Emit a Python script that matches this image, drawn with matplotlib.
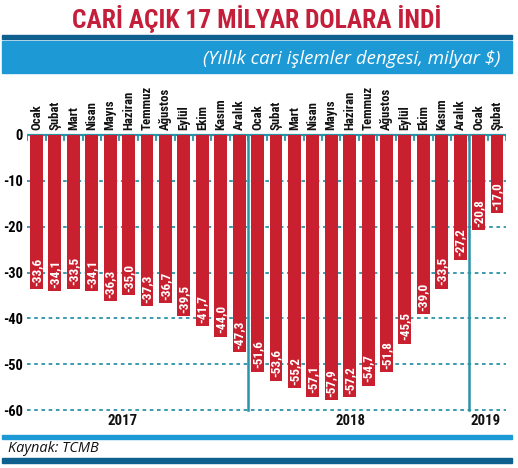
import matplotlib
matplotlib.use('Agg')
import matplotlib.pyplot as plt
from matplotlib.patches import Rectangle

# data
months = ['Ocak', 'Şubat', 'Mart', 'Nisan', 'Mayıs', 'Haziran', 'Temmuz',
          'Ağustos', 'Eylül', 'Ekim', 'Kasım', 'Aralık'] * 2 + ['Ocak', 'Şubat']
values = [-33.6, -34.1, -33.5, -34.1, -36.3, -35.0, -37.3, -36.7, -39.5, -41.7, -44.0, -47.3,
          -51.6, -53.6, -55.2, -57.1, -57.9, -57.2, -54.7, -51.8, -45.5, -39.0, -33.5, -27.2,
          -20.8, -17.0]
years = ['2017', '2018', '2019']
year_pos = [4.67, 17.02, 24.37]
yticks = [0, -10, -20, -30, -40, -50, -60]

narrow = ['Roboto Condensed', 'Liberation Sans Narrow', 'DejaVu Sans Condensed', 'DejaVu Sans']
cond = dict(family=narrow, fontweight='bold', fontstretch='condensed')

red = '#c8202f'
teal = '#2b93a8'
lightblue = '#1d9ad6'
darkblue = '#0f5f8f'

W, H = 518, 468
fig = plt.figure(figsize=(W / 100, H / 100), dpi=100)
renderer = fig.canvas.get_renderer()


def fit(t, width_px):
    # shrink or grow a text so its width matches the reference
    w = t.get_window_extent(renderer).width
    t.set_fontsize(t.get_fontsize() * width_px / w)


# axes placement in pixels
ppu = 275 / 60.0
top_px = 135 - 0.5 * ppu
bot_px = 410 + 0.5 * ppu
ax = fig.add_axes([27.3 / W, 1 - bot_px / H, (506.2 - 27.3) / W, (bot_px - top_px) / H])
ax.set_xlim(-0.5, len(values) - 0.5)
ax.set_ylim(-60.5, 0.5)

x = list(range(len(values)))
ax.bar(x, values, width=0.7, color=red, zorder=3)

for v in yticks[1:]:
    ax.axhline(v, color=teal, lw=1.3, ls=(0, (2, 2)), zorder=1)
ax.axhline(0, color=teal, lw=1.6, zorder=2)
for i in range(len(values) + 1):
    ax.plot([i - 0.5, i - 0.5], [0, -1.2], color=teal, lw=1.3, zorder=2)
for sep in [11.5, 23.5]:
    ax.plot([sep, sep], [0, -60], color=teal, lw=1.8, zorder=4)

for i, v in enumerate(values):
    t = ax.text(i, v + 0.7, f'{v:.1f}'.replace('.', ','), rotation=90, ha='center', va='bottom',
                color='white', fontsize=8, zorder=5, **cond)
    fit_h = t.get_window_extent(renderer).height
    t.set_fontsize(8 * 28 / fit_h)
    t = ax.text(i, 1.1, months[i], rotation=90, ha='center', va='bottom', color='#111111',
                fontsize=9, clip_on=False, **cond)
    if months[i] == 'Ağustos':
        h = t.get_window_extent(renderer).height
        month_size = 9 * 42 / h
for t in ax.texts:
    if t.get_text() in months:
        t.set_fontsize(month_size)

for name, pos in zip(years, year_pos):
    t = ax.text(pos, -62.3, name, ha='center', va='center', fontsize=10.5, color='#111111',
                clip_on=False, **cond)
    fit(t, 30)

ax.set_yticks(yticks)
ax.set_yticklabels([str(t) for t in yticks], fontsize=10.5, **cond)
ax.tick_params(axis='y', length=0, pad=3)
ax.set_xticks([])
for s in ax.spines.values():
    s.set_visible(False)
fig.canvas.draw()
lab = ax.get_yticklabels()[1]
tick_size = 10.5 * 20 / lab.get_window_extent(renderer).width
for lab in ax.get_yticklabels():
    lab.set_fontsize(tick_size)


# header and footer
def band(y0, y1, color):
    fig.patches.append(Rectangle((2 / W, 1 - y1 / H), 510 / W, (y1 - y0) / H,
                                 transform=fig.transFigure, color=color, zorder=0))


band(35, 39, darkblue)
band(41, 73, lightblue)
band(435, 439, lightblue)
band(458, 463, darkblue)

t = fig.text(257 / W, 1 - 19 / H, 'CARİ AÇIK 17 MİLYAR DOLARA İNDİ', ha='center', va='center',
             color='#c41e3a', fontsize=21, **cond)
fit(t, 368)
t = fig.text(500 / W, 1 - 59 / H, '(Yıllık cari işlemler dengesi, milyar $)', ha='right',
             va='center', color='white', fontsize=11.5, style='italic', family='Open Sans')
fit(t, 298)
t = fig.text(8 / W, 1 - 449 / H, 'Kaynak: TCMB', ha='left', va='center', color='#111111',
             fontsize=8.5, style='italic', family='Open Sans')
fit(t, 90)

fig.savefig('out.png', dpi=100)
